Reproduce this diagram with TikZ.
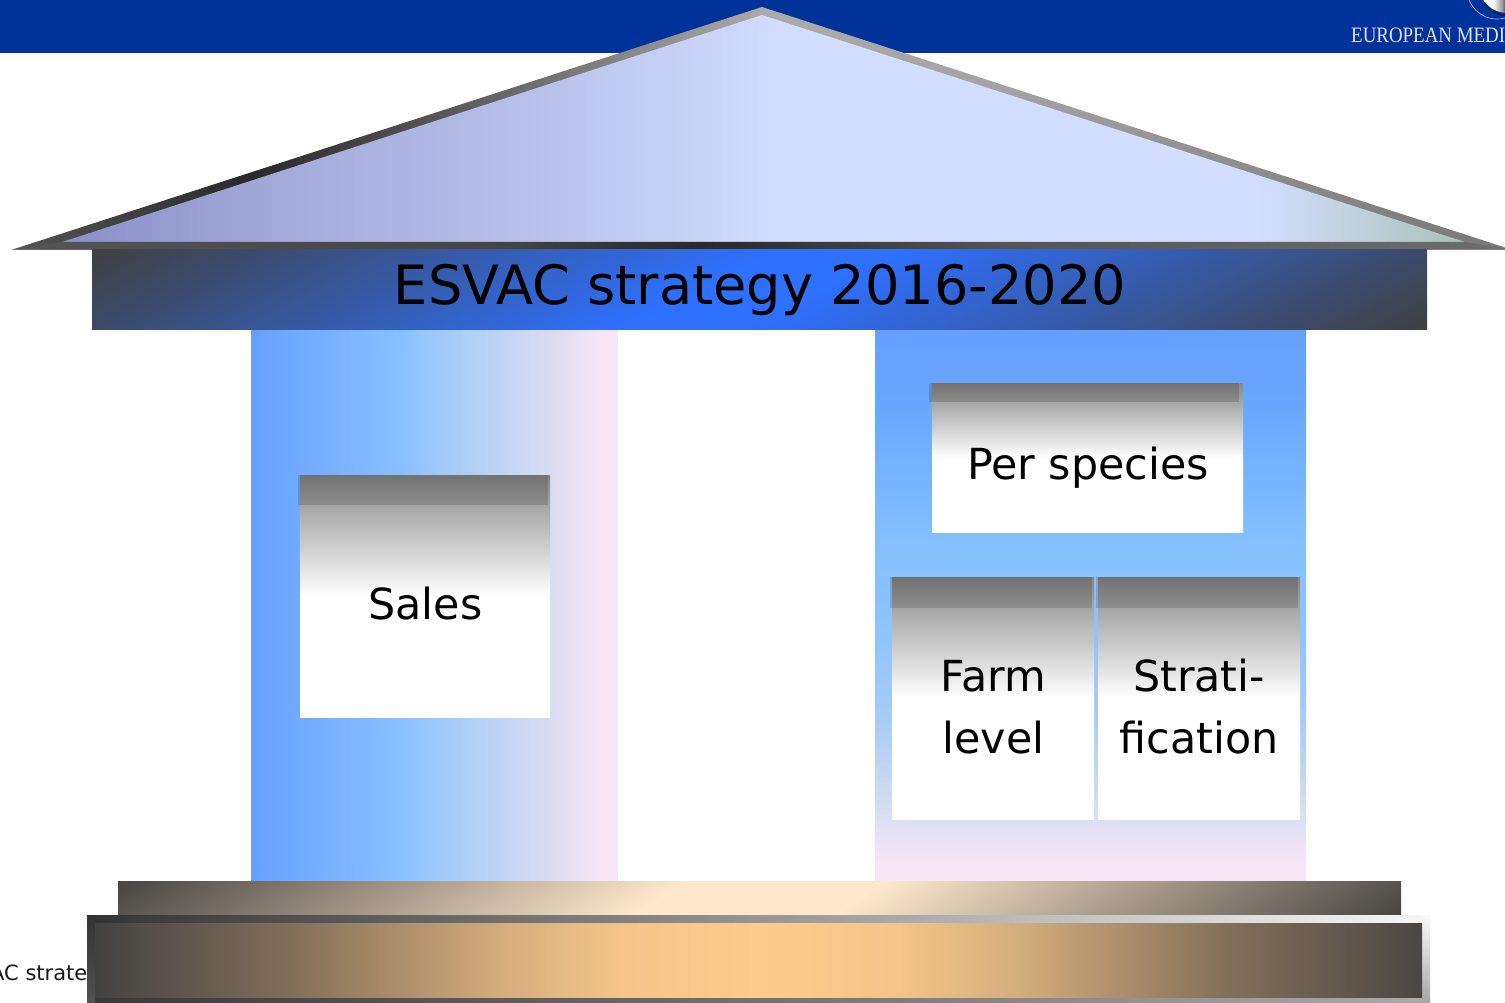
\documentclass[tikz,border=0pt]{standalone}
\usepackage{fontspec}
\setmainfont{DejaVu Sans}
\newfontfamily\logofont[FakeStretch=0.86]{Liberation Serif}
\definecolor{barblue}{HTML}{003399}
\pgfdeclarehorizontalshading{roofline}{100bp}{color(0bp)=(black!67);color(25bp)=(black!67);color(33bp)=(black!84);color(41.3bp)=(black!60);color(50.1bp)=(black!33);color(58.1bp)=(black!36);color(68.2bp)=(black!47);color(75bp)=(black!53);color(100bp)=(black!53)}
\pgfdeclarehorizontalshading{roofbase}{100bp}{color(0bp)=(black!67);color(25bp)=(black!67);color(41.3bp)=(black!73);color(48bp)=(black!84);color(58bp)=(black!67);color(75bp)=(black!57);color(100bp)=(black!57)}
\definecolor{ra}{HTML}{8A8FC8}\definecolor{rb}{HTML}{A6ACDB}\definecolor{rc}{HTML}{B5BDE8}\definecolor{rd}{HTML}{D2DDFF}\definecolor{re}{HTML}{C4D4E6}\definecolor{rf}{HTML}{AAC2B6}
\pgfdeclarehorizontalshading{rooffill}{100bp}{color(0bp)=(ra);color(25bp)=(ra);color(33.5bp)=(rb);color(40.6bp)=(rc);color(50.9bp)=(rd);color(67.7bp)=(rd);color(70.2bp)=(re);color(75bp)=(rf);color(100bp)=(rf)}
\definecolor{ca}{HTML}{66A0FF}\definecolor{cb}{HTML}{88C0FF}\definecolor{cc}{HTML}{A5CCF8}\definecolor{cd}{HTML}{DCDCF2}\definecolor{ce}{HTML}{F6E6F6}
\pgfdeclarehorizontalshading{leftcol}{100bp}{color(0bp)=(ca);color(25bp)=(ca);color(45.3bp)=(cb);color(52.1bp)=(cc);color(66bp)=(cd);color(72.6bp)=(ce);color(100bp)=(ce)}
\definecolor{da}{HTML}{68A6FF}\definecolor{db}{HTML}{84BFFF}\definecolor{dc}{HTML}{90C4FC}\definecolor{dd}{HTML}{A8CCF6}\definecolor{de}{HTML}{D0DCF0}
\pgfdeclareverticalshading{rightcol}{100bp}{color(0bp)=(ce);color(26.9bp)=(ce);color(32.4bp)=(de);color(39.6bp)=(dd);color(46.9bp)=(dc);color(55.9bp)=(db);color(68.6bp)=(da);color(75bp)=(ca);color(100bp)=(ca)}
\pgfdeclareverticalshading{panelgrad}{100bp}{color(0bp)=(white);color(50bp)=(white);color(75bp)=(black!47);color(100bp)=(black!47)}
\definecolor{ba}{HTML}{424242}\definecolor{bb}{HTML}{85715A}\definecolor{bc}{HTML}{FDCC8C}\definecolor{bd}{HTML}{4A4744}\definecolor{be}{HTML}{D4AD7C}\definecolor{bf}{HTML}{F4C488}
\pgfdeclarehorizontalshading{basegrad}{100bp}{color(0bp)=(ba);color(25bp)=(ba);color(32.7bp)=(bb);color(40.3bp)=(be);color(44.8bp)=(bf);color(50bp)=(bc);color(55.3bp)=(bf);color(59.8bp)=(be);color(67.4bp)=(bb);color(75bp)=(bd);color(100bp)=(bd)}
\pgfdeclarehorizontalshading{spheregrad}{100bp}{color(0bp)=(white);color(37.5bp)=(white);color(45.5bp)=(black!40);color(52.7bp)=(black);color(100bp)=(black)}
% diagonal gradients mirrored about the middle of the shape
\pgfdeclarefunctionalshading{beamgrad}{\pgfpoint{0bp}{0bp}}{\pgfpoint{100bp}{100bp}}{}{
75 exch sub 50 div 0.101 mul exch 25 sub 50 div 0.899 mul add 2 mul 1 sub abs
0.08 sub 0.92 div dup 0 lt {pop 0} if dup 1 gt {pop 1} if
dup dup 0.07 mul 0.18 add 3 1 roll -0.19 mul 0.44 add exch -0.75 mul 1 add}
\pgfdeclarefunctionalshading{plinthgrad}{\pgfpoint{0bp}{0bp}}{\pgfpoint{100bp}{100bp}}{}{
75 exch sub 50 div 0.0375 mul exch 25 sub 50 div 0.9625 mul add 2 mul 1 sub abs
0.15 sub 0.85 div dup 0 lt {pop 0} if dup 1 gt {pop 1} if
dup dup -0.72 mul 1 add 3 1 roll -0.64 mul 0.91 add exch -0.54 mul 0.80 add}
\tikzset{
  panel/.style={shading=panelgrad},
  band/.style={fill=black,fill opacity=0.15},
  bigtext/.style={font=\fontsize{42.8}{50}\selectfont,anchor=base,inner sep=0pt,text=black},
}
\begin{document}
\begin{tikzpicture}[x=1pt,y=-1pt]
\useasboundingbox (0,0) rectangle (1505,1003);
\clip (0,0) rectangle (1505,1003);
\fill[barblue] (0,0) rectangle (1505,53);
% logo
\draw[color=blue!35!white,line width=0.7pt] (1497,-11) circle[radius=30];
\fill[color=barblue!70!black] (1509,-13) circle[radius=30];
\shade[shading=spheregrad] (1507,-15) circle[radius=28];
\node[font=\logofont\fontsize{22}{26}\selectfont,text=blue!12!white,anchor=base west,inner sep=0pt] (agency) at (1351,43) {EUROPEAN MEDI};
\node[font=\fontsize{21}{25}\selectfont,anchor=base west,inner sep=0pt,text=black!90] (footer) at (-10,980) {AC strate};
% columns
\shade[shading=leftcol] (251,330) rectangle (618,881);
\shade[shading=rightcol] (875,330) rectangle (1306,881);
% roof
\shade[shading=roofline] (12,249.7) -- (762,7) -- (1512,249.7) -- cycle;
\shade[shading=rooffill] (62,242) -- (762,15) -- (1465,242) -- cycle;
\shade[shading=roofbase] (12,249.7) -- (62,242) -- (1465,242) -- (1512,249.7) -- cycle;
% beam
\shade[shading=beamgrad] (92,249.7) rectangle (1427,329.6);
\node[font=\fontsize{54.2}{60}\selectfont,anchor=base,inner sep=0pt,text=black] (title) at (760,305) {ESVAC strategy 2016-2020};
% panels
\shade[panel] (300,475) rectangle (550,717.5);
\fill[band] (298,475) rectangle (548,505);
\node[bigtext] (sales) at (425.5,619) {Sales};
\shade[panel] (932,383) rectangle (1243,532.5);
\fill[band] (929,383) rectangle (1239,402);
\node[bigtext] (species) at (1088,479) {Per species};
\shade[panel] (892,577) rectangle (1094,819.5);
\fill[band] (890,577) rectangle (1092,608);
\node[bigtext] (farm) at (993.5,691) {Farm};
\node[bigtext] (level) at (993.5,753) {level};
\shade[panel] (1098,577) rectangle (1300,819.5);
\fill[band] (1096,577) rectangle (1298,608);
\node[bigtext] (strati) at (1199,691) {Strati-};
\node[bigtext] (fication) at (1199,753) {fication};
% steps
\shade[shading=plinthgrad] (118,881) rectangle (1401,915);
\shade[left color=black!80,middle color=black!42,right color=black!3] (87,915) rectangle (1430,923);
\shade[left color=black!78,middle color=black!62,right color=black!33] (87,997) rectangle (1430,1003);
\shade[top color=black!80,bottom color=black!68] (87,915) rectangle (95,1003);
\shade[top color=black!2,bottom color=black!35] (1422,915) rectangle (1430,1003);
\shade[shading=basegrad] (95,923) rectangle (1422,997);
\end{tikzpicture}
\end{document}
